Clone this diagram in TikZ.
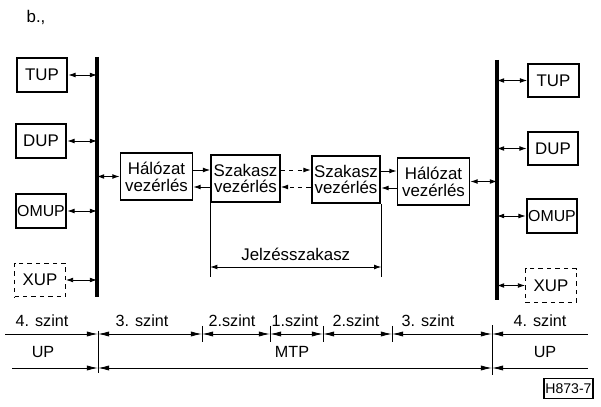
\documentclass[tikz,border=0pt]{standalone}
\usepackage{fontspec}
\setmainfont{Liberation Sans}
\usetikzlibrary{arrows.meta}

\begin{document}
\begin{tikzpicture}[x=0.025cm, y=-0.025cm, every node/.style={font=\fontsize{12}{12}\selectfont},
  upbox/.style={draw, line width=1.3pt, minimum width=1.27cm, minimum height=0.84cm, inner sep=1pt},
  xbox/.style={upbox, line width=0.7pt, dashed},
  ctrl/.style={draw, line width=1.3pt, minimum width=1.8cm, minimum height=1.18cm, inner sep=1pt, align=center},
  sect/.style={ctrl, minimum width=1.72cm},
  bus/.style={line width=2.4pt},
  conn/.style={{Latex[length=1.8mm,width=1.2mm]}-{Latex[length=1.8mm,width=1.2mm]}, line width=0.6pt},
  fwd/.style={-{Latex[length=1.8mm,width=1.2mm]}, line width=0.6pt},
  dimln/.style={line width=0.6pt},
  dtip/.style={{Latex[length=2.8mm,width=1.3mm]}-{Latex[length=2.8mm,width=1.3mm]}, line width=0.6pt},
  lvl/.style={font=\fontsize{11.5}{12}\selectfont}]
\useasboundingbox (0,0) rectangle (601,407);
\node (fig) at (36,17) {b.,};
% Left side
\coordinate (busLt) at (97,57);
\coordinate (busLb) at (97,297);
\draw[bus] (busLt) -- (busLb);
\node[upbox] (tupL) at (42,75) {TUP};
\node[upbox] (dupL) at (41,141) {DUP};
\node[upbox, font=\fontsize{11.3}{12}\selectfont] (omupL) at (41,211) {OMUP};
\node[xbox] (xupL) at (40,280) {XUP};
\draw[conn] (tupL.east) -- (tupL.east -| busLt);
\draw[conn] (dupL.east) -- (dupL.east -| busLt);
\draw[conn] (omupL.east) -- (omupL.east -| busLt);
\draw[conn] (xupL.east) -- (xupL.east -| busLt);
% Control chain
\node[ctrl] (hvL) at (156.5,176.5) {Hálózat\\vezérlés};
\node[sect] (szvL) at (245.5,178.5) {Szakasz\\vezérlés};
\node[sect] (szvR) at (346,179.5) {Szakasz\\vezérlés};
\node[ctrl] (hvR) at (433.5,181.5) {Hálózat\\vezérlés};
\draw[conn] (hvL.west) -- (hvL.west -| busLt);
\draw[fwd] (hvL.east |- 0,170) -- (szvL.west |- 0,170);
\draw[fwd] (szvL.west |- 0,187) -- (hvL.east |- 0,187);
\draw[fwd, dashed] (szvL.east |- 0,170) -- (szvR.west |- 0,170);
\draw[fwd, dashed] (szvR.west |- 0,187) -- (szvL.east |- 0,187);
\draw[fwd] (szvR.east |- 0,171) -- (hvR.west |- 0,171);
\draw[fwd] (hvR.west |- 0,188) -- (szvR.east |- 0,188);
% Right side
\coordinate (busRt) at (497,60);
\coordinate (busRb) at (497,300);
\draw[bus] (busRt) -- (busRb);
\node[upbox] (tupR) at (553.5,80.5) {TUP};
\node[upbox] (dupR) at (553,148.5) {DUP};
\node[upbox, font=\fontsize{11.3}{12}\selectfont] (omupR) at (552,216) {OMUP};
\node[xbox] (xupR) at (551,285.5) {XUP};
\draw[conn] (hvR.east) -- (hvR.east -| busRt);
\draw[conn] (tupR.west) -- (tupR.west -| busRt);
\draw[conn] (dupR.west) -- (dupR.west -| busRt);
\draw[conn] (omupR.west) -- (omupR.west -| busRt);
\draw[conn] (xupR.west) -- (xupR.west -| busRt);
% Signalling section
\draw[dimln] (szvL.south west) -- (szvL.south west |- 0,277);
\draw[dimln] (szvR.south east) -- (szvR.south east |- 0,277);
\draw[conn] (szvL.south west |- 0,267) -- (szvR.south east |- 0,267)
  node[midway, above=1pt] (jsz) {Jelzésszakasz};
% Levels
\coordinate (d0) at (5,334);
\coordinate (d1) at (98,334);
\coordinate (d2) at (202,334);
\coordinate (d3) at (270,334);
\coordinate (d4) at (323,334);
\coordinate (d5) at (392,334);
\coordinate (d6) at (492,334);
\coordinate (d7) at (588,334);
\draw[dimln, -{Latex[length=2.8mm,width=1.3mm]}] (d0) -- (d1);
\draw[dtip] (d1) -- (d2);
\draw[dtip] (d2) -- (d3);
\draw[dtip] (d3) -- (d4);
\draw[dtip] (d4) -- (d5);
\draw[dtip] (d5) -- (d6);
\draw[dimln, {Latex[length=2.8mm,width=1.3mm]}-] (d6) -- (d7);
\foreach \t in {d2,d3,d4,d5}
  \draw[dimln] ([yshift=2mm]\t) -- ([yshift=-2mm]\t);
\node[lvl] (s4L) at (42,321) {4. szint};
\node[lvl] (s3L) at (142,321) {3. szint};
\node[lvl] (s2L) at (232,321) {2.szint};
\node[lvl] (s1) at (295,321) {1.szint};
\node[lvl] (s2R) at (356,321) {2.szint};
\node[lvl] (s3R) at (428,321) {3. szint};
\node[lvl] (s4R) at (540,321) {4. szint};
% UP / MTP
\coordinate (e0) at (12,368);
\coordinate (e1) at (98,368);
\coordinate (e2) at (492,368);
\coordinate (e3) at (588,368);
\draw[dimln, -{Latex[length=2.8mm,width=1.3mm]}] (e0) -- (e1);
\draw[dtip] (e1) -- (e2);
\draw[dimln, {Latex[length=2.8mm,width=1.3mm]}-] (e2) -- (e3);
\draw[dimln] ([yshift=0.8mm]d1) -- ([yshift=-1.3mm]e1);
\draw[dimln] ([yshift=2.2mm]d6) -- ([yshift=-1.8mm]e2);
\node[lvl] (upL) at (43,352) {UP};
\node[lvl] (mtp) at (292,352) {MTP};
\node[lvl] (upR) at (545,352) {UP};
\node[draw, line width=0.8pt, minimum width=1.18cm, minimum height=0.52cm, inner sep=1pt,
  font=\fontsize{10}{10}\selectfont] (ref) at (568.5,388.5) {H873-7};
\end{tikzpicture}
\end{document}
